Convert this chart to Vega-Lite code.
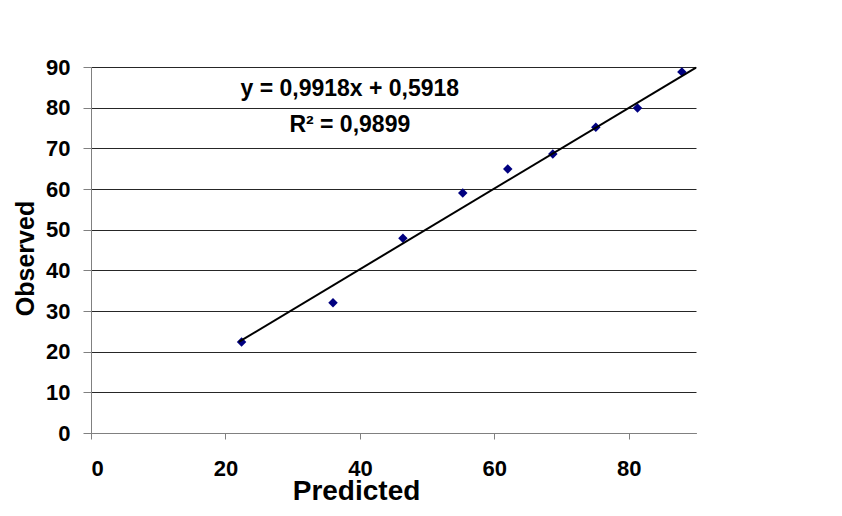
{
  "$schema": "https://vega.github.io/schema/vega-lite/v6.json",
  "autosize": {"type": "none"},
  "width": 605,
  "height": 366,
  "padding": {"left": 91, "top": 67, "right": 146, "bottom": 83},
  "background": "white",
  "config": {
    "font": "Liberation Sans",
    "view": {"stroke": null},
    "axis": {"labelFont": "Liberation Sans", "titleFont": "Liberation Sans", "labelFontWeight": "bold", "titleFontWeight": "bold", "labelColor": "black", "titleColor": "black"}
  },
  "datasets": {
    "obs": [
      {"Predicted": 22.4, "Observed": 22.4},
      {"Predicted": 36.0, "Observed": 32.0},
      {"Predicted": 46.4, "Observed": 47.9},
      {"Predicted": 55.3, "Observed": 59.0},
      {"Predicted": 62.0, "Observed": 64.9},
      {"Predicted": 68.7, "Observed": 68.6},
      {"Predicted": 75.1, "Observed": 75.2},
      {"Predicted": 81.3, "Observed": 79.9},
      {"Predicted": 87.9, "Observed": 88.8}
    ],
    "trend": [
      {"Predicted": 22.0, "Observed": 22.41},
      {"Predicted": 90.0, "Observed": 89.85}
    ],
    "labels": [
      {"Predicted": 38.5, "Observed": 84.6, "text": "y = 0,9918x + 0,5918"},
      {"Predicted": 38.5, "Observed": 75.7, "text": "R² = 0,9899"}
    ]
  },
  "layer": [
    {
      "data": {"name": "obs"},
      "mark": {"type": "point", "shape": "diamond", "filled": true, "color": "#000080", "size": 90, "opacity": 1},
      "encoding": {
        "x": {
          "field": "Predicted", "type": "quantitative",
          "scale": {"domain": [0, 90], "nice": false},
          "axis": {
            "title": "Predicted", "values": [0, 20, 40, 60, 80], "grid": false,
            "domainColor": "#808080", "tickColor": "#808080", "tickSize": 6,
            "labelFontSize": 22, "labelPadding": 19,
            "titleFontSize": 28, "titleAnchor": null, "titleAlign": "center",
            "titleX": 265, "titleY": 66, "titleBaseline": "alphabetic"
          }
        },
        "y": {
          "field": "Observed", "type": "quantitative",
          "scale": {"domain": [0, 90], "nice": false},
          "axis": {
            "title": "Observed", "values": [0, 10, 20, 30, 40, 50, 60, 70, 80, 90],
            "grid": true, "gridColor": "#000000", "gridWidth": 1, "gridOpacity": 0.85,
            "domainColor": "#808080", "tickColor": "#808080", "tickSize": 8,
            "labelFontSize": 22, "labelPadding": 13,
            "titleFontSize": 25, "titleAnchor": null, "titleAngle": -90, "titleAlign": "center",
            "titleX": -58, "titleY": 191, "titleBaseline": "alphabetic"
          }
        }
      }
    },
    {
      "data": {"name": "trend"},
      "mark": {"type": "line", "color": "black", "strokeWidth": 2},
      "encoding": {
        "x": {"field": "Predicted", "type": "quantitative"},
        "y": {"field": "Observed", "type": "quantitative"}
      }
    },
    {
      "data": {"name": "labels"},
      "mark": {"type": "text", "font": "Liberation Sans", "fontWeight": "bold", "fontSize": 23, "color": "black", "align": "center", "baseline": "middle"},
      "encoding": {
        "x": {"field": "Predicted", "type": "quantitative"},
        "y": {"field": "Observed", "type": "quantitative"},
        "text": {"field": "text"}
      }
    }
  ]
}
